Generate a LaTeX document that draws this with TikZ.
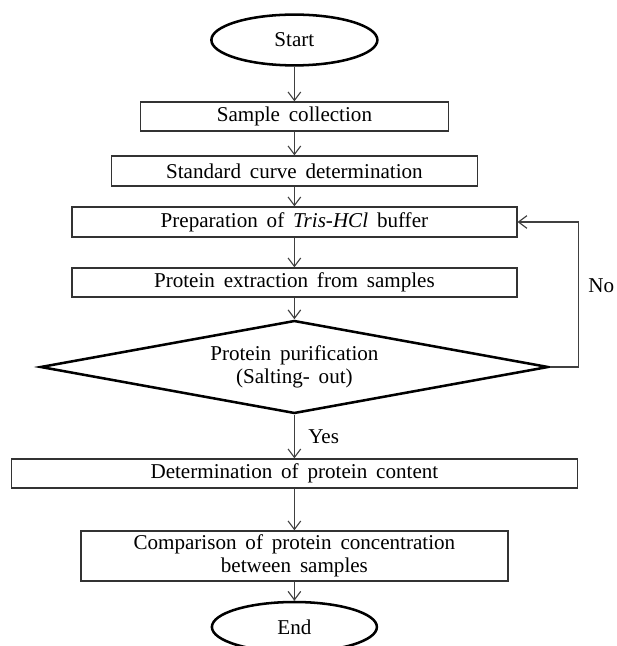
\documentclass[tikz,border=0pt]{standalone}
\usepackage{fontspec}
\setmainfont{Liberation Serif}
\usetikzlibrary{shapes.geometric,arrows.meta}

\newcommand{\flowfont}{\fontsize{15}{16}\selectfont\spaceskip=0.42em plus 0.1em\relax}

\tikzset{
	stepbox/.style={draw=black!80, line width=0.9pt, inner sep=0pt, align=center, minimum height=0.73cm},
	terminal/.style={ellipse, draw=black, line width=1.8pt, inner sep=0pt, minimum width=4.15cm, minimum height=1.27cm},
	decision/.style={diamond, draw=black, line width=1.8pt, inner sep=0pt, aspect=5.4, align=center, minimum width=12.7cm, minimum height=2.325cm},
	flow/.style={draw=black!75, line width=0.8pt, -{Straight Barb[length=6pt,width=9pt]}},
	marker/.style={anchor=west, inner sep=0pt}
}

\begin{document}
\begin{tikzpicture}[font=\flowfont]
	\useasboundingbox (0,0) rectangle (15.4,-16.15);
	% Start und Ende
	\node[terminal] (start) at (7.36,-1.0) {Start};
	\node[terminal, minimum width=4.125cm, minimum height=1.25cm] (end) at (7.36,-15.675) {End};
	% Arbeitsschritte
	\node[stepbox, minimum width=7.7cm, minimum height=0.725cm] (sample) at (7.36,-2.9125) {Sample collection};
	\node[stepbox, minimum width=9.15cm, minimum height=0.75cm] (curve) at (7.36,-4.275) {Standard curve determination};
	\node[stepbox, minimum width=11.125cm, minimum height=0.75cm] (prep) at (7.36,-5.55) {Preparation of \textit{Tris-HCl} buffer};
	\node[stepbox, minimum width=11.125cm, minimum height=0.725cm] (extract) at (7.36,-7.0625) {Protein extraction from samples};
	\node[decision] (purify) at (7.36,-9.175) {Protein purification\\(Salting- out)};
	\node[stepbox, minimum width=14.15cm, minimum height=0.725cm] (content) at (7.36,-11.8375) {Determination of protein content};
	\node[stepbox, minimum width=10.675cm, minimum height=1.25cm] (compare) at (7.36,-13.9) {Comparison of protein concentration\\between samples};
	% Beschriftungen
	\node[marker] (yes) at (7.7,-10.925) {Yes};
	\node[marker] (no) at (14.7,-7.15) {No};
	% Pfeile
	\draw[flow] (start) -- (sample);
	\draw[flow] (sample) -- (curve);
	\draw[flow] (curve) -- (prep);
	\draw[flow] (prep) -- (extract);
	\draw[flow] (extract) -- (purify);
	\draw[flow] (purify) -- (content);
	\draw[flow] (content) -- (compare);
	\draw[flow] (compare) -- (end);
	\draw[flow] (purify.east) -- ++(0.725,0) |- (prep.east);
\end{tikzpicture}
\end{document}
